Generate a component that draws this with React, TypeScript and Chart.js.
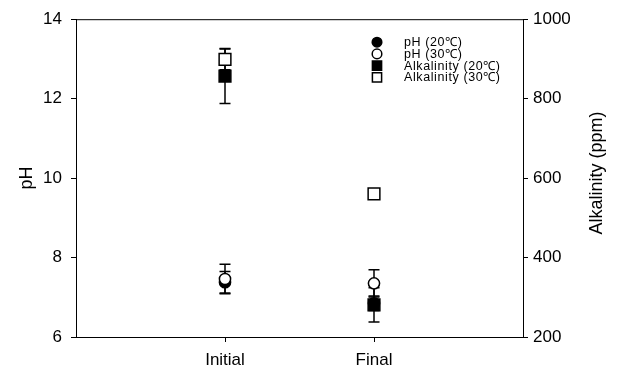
import React, { useEffect, useRef } from "react";
import { Chart, registerables } from "chart.js";

Chart.register(...registerables);

const categories = ["Initial", "Final"];
const categoryPositions = [1, 2];

const ph20 = [7.38, 6.85];
const ph20Err = [0.27, 0.18];
const ph30 = [7.46, 7.35];
const ph30Err = [0.37, 0.34];
const alk20 = [857, 281];
const alk20Err = [69, 43];
const alk30 = [899, 560];
const alk30Err = [26, 0];

const seriesLabels = ["pH (20\u2103)", "pH (30\u2103)", "Alkalinity (20\u2103)", "Alkalinity (30\u2103)"];

const FONT = "'Liberation Sans', Arial, sans-serif";

const errorBarPlugin = {
  id: "errorBars",
  beforeDatasetsDraw(chart: any) {
    const ctx = chart.ctx;
    ctx.save();
    ctx.strokeStyle = "#000";
    ctx.lineWidth = 1.5;
    chart.data.datasets.forEach((ds: any, i: number) => {
      const meta = chart.getDatasetMeta(i);
      const xs = chart.scales.x;
      const ys = chart.scales[meta.yAxisID];
      ds.data.forEach((pt: any, j: number) => {
        const e = ds.errors[j];
        if (!e) return;
        const px = xs.getPixelForValue(pt.x);
        const y1 = ys.getPixelForValue(pt.y + e);
        const y2 = ys.getPixelForValue(pt.y - e);
        ctx.beginPath();
        ctx.moveTo(px, y1);
        ctx.lineTo(px, y2);
        ctx.moveTo(px - 5.5, y1);
        ctx.lineTo(px + 5.5, y1);
        ctx.moveTo(px - 5.5, y2);
        ctx.lineTo(px + 5.5, y2);
        ctx.stroke();
      });
    });
    ctx.restore();
  },
};

const framePlugin = {
  id: "frame",
  afterDraw(chart: any) {
    const ctx = chart.ctx;
    const a = chart.chartArea;
    ctx.save();
    ctx.strokeStyle = "#000";
    ctx.lineWidth = 1;
    ctx.beginPath();
    ctx.moveTo(a.left, a.top + 0.5);
    ctx.lineTo(a.right, a.top + 0.5);
    ctx.stroke();

    // right axis title (reads bottom to top)
    ctx.fillStyle = "#000";
    ctx.font = `18px ${FONT}`;
    ctx.textAlign = "center";
    ctx.textBaseline = "middle";
    ctx.translate(597, (a.top + a.bottom) / 2 - 5);
    ctx.rotate(-Math.PI / 2);
    ctx.fillText("Alkalinity (ppm)", 0, 0);
    ctx.restore();

    // legend
    ctx.save();
    const mx = a.right - 146;
    const tx = a.right - 119;
    ctx.font = `12.5px ${FONT}`;
    try {
      (ctx as any).letterSpacing = "0.6px";
    } catch (e) {}
    ctx.textAlign = "left";
    ctx.textBaseline = "middle";
    chart.data.datasets.forEach((ds: any, i: number) => {
      const y = a.top + 23 + i * 11.7;
      ctx.lineWidth = 1.5;
      ctx.strokeStyle = "#000";
      ctx.fillStyle = ds.pointBackgroundColor;
      ctx.beginPath();
      if (ds.pointStyle === "circle") {
        ctx.arc(mx, y, 4.8, 0, Math.PI * 2);
      } else {
        ctx.rect(mx - 4.6, y - 4.6, 9.2, 9.2);
      }
      ctx.fill();
      ctx.stroke();
      ctx.fillStyle = "#000";
      ctx.fillText(ds.label, tx, y + 0.5);
    });
    ctx.restore();
  },
};

function toPoints(vals: number[]) {
  return vals.map((v, i) => ({ x: categoryPositions[i], y: v }));
}

export default function App() {
  const ref = useRef<HTMLCanvasElement>(null);
  useEffect(() => {
    if (!ref.current) return;
    const mk = (label: string, vals: number[], errs: number[], axis: string, style: string, filled: boolean, order: number) => ({
      label,
      data: toPoints(vals),
      errors: errs,
      yAxisID: axis,
      showLine: false,
      pointStyle: style,
      pointRadius: style === "circle" ? 5.6 : 8.3,
      pointHoverRadius: style === "circle" ? 5.6 : 8.3,
      pointBorderWidth: 1.5,
      pointBorderColor: "#000",
      pointBackgroundColor: filled ? "#000" : "#fff",
      borderColor: "#000",
      backgroundColor: filled ? "#000" : "#fff",
      order,
    });
    const chart = new Chart(ref.current, {
      type: "scatter",
      data: {
        datasets: [
          mk(seriesLabels[0], ph20, ph20Err, "y", "circle", true, 4),
          mk(seriesLabels[1], ph30, ph30Err, "y", "circle", false, 3),
          mk(seriesLabels[2], alk20, alk20Err, "y2", "rect", true, 2),
          mk(seriesLabels[3], alk30, alk30Err, "y2", "rect", false, 1),
        ] as any,
      },
      options: {
        animation: false,
        responsive: false,
        devicePixelRatio: 1,
        layout: { padding: { top: 16, left: 0, right: 0, bottom: 0 } },
        plugins: { legend: { display: false }, tooltip: { enabled: false } },
        scales: {
          x: {
            type: "linear",
            position: "bottom",
            min: 0,
            max: 3,
            afterBuildTicks: (s: any) => {
              s.ticks = categoryPositions.map((v) => ({ value: v }));
            },
            afterFit: (s: any) => {
              s.height = 33;
            },
            ticks: {
              color: "#000",
              font: { family: FONT, size: 17 },
              padding: 8,
              callback: (v: any) => {
                const idx = categoryPositions.indexOf(Number(v));
                return idx >= 0 ? categories[idx] : "";
              },
            },
            grid: { drawOnChartArea: false, tickLength: 5, color: "#000", tickWidth: 1 },
            border: { color: "#000", width: 1 },
          },
          y: {
            type: "linear",
            position: "left",
            min: 6,
            max: 14,
            afterFit: (s: any) => {
              s.width = 76;
            },
            ticks: { stepSize: 2, color: "#000", font: { family: FONT, size: 17 }, padding: 9, callback: (v: any) => String(v) },
            grid: { drawOnChartArea: false, tickLength: 5, color: "#000" },
            border: { color: "#000", width: 1 },
            title: { display: true, text: "pH", color: "#000", font: { family: FONT, size: 18 }, padding: { top: 16, bottom: 0 } },
          },
          y2: {
            type: "linear",
            position: "right",
            min: 200,
            max: 1000,
            afterFit: (s: any) => {
              s.width = 95;
            },
            ticks: { stepSize: 200, color: "#000", font: { family: FONT, size: 17 }, padding: 5, callback: (v: any) => String(v) },
            grid: { drawOnChartArea: false, tickLength: 5, color: "#000" },
            border: { color: "#000", width: 1 },
          },
        },
      } as any,
      plugins: [errorBarPlugin, framePlugin],
    });
    return () => chart.destroy();
  }, []);
  return (
    <canvas
      ref={ref}
      width={618}
      height={370}
      style={{ position: "absolute", left: 0, top: 0, width: 618, height: 370 }}
    />
  );
}
